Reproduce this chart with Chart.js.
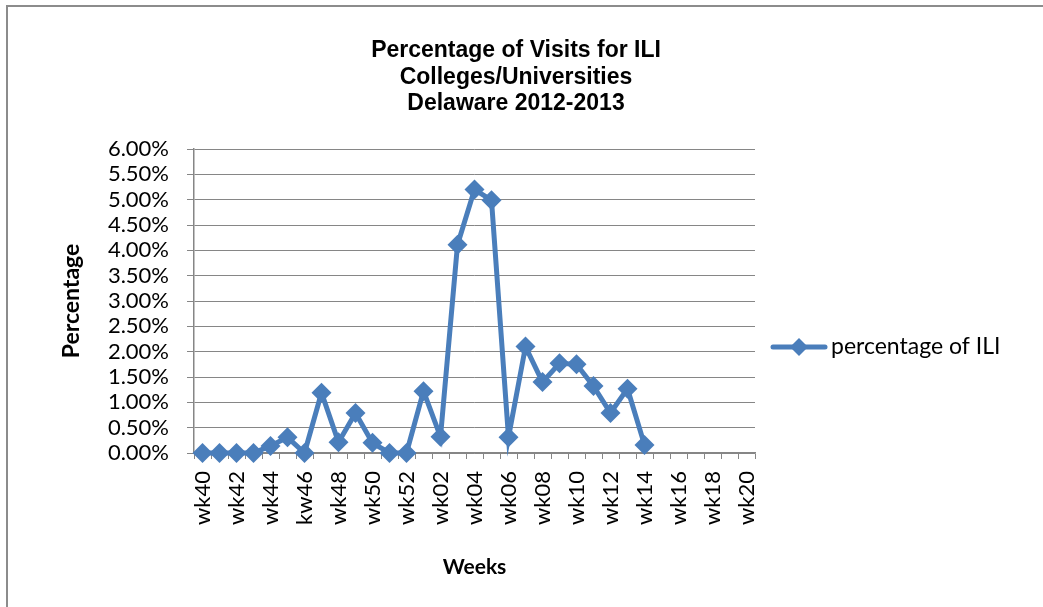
<!DOCTYPE html>
<html>
<head>
<meta charset="utf-8">
<script src="https://cdn.jsdelivr.net/npm/chart.js@4"></script>
<style>
  html, body { margin: 0; padding: 0; background: #fff; }
  #wrap { width: 1043px; height: 607px; position: relative; }
</style>
</head>
<body>
<div id="wrap"><canvas id="c" width="1043" height="607"></canvas></div>
<script>
const weeks = ["wk40","wk41","wk42","wk43","wk44","wk45","kw46","wk47","wk48","wk49","wk50","wk51","wk52",
  "wk01","wk02","wk03","wk04","wk05","wk06","wk07","wk08","wk09","wk10","wk11","wk12","wk13","wk14",
  "wk15","wk16","wk17","wk18","wk19","wk20"];
const iliPercent = [0, 0, 0, 0, 0.14, 0.31, 0, 1.19, 0.21, 0.79, 0.20, 0, 0,
  1.22, 0.32, 4.11, 5.20, 4.99, 0.31, 2.10, 1.40, 1.77, 1.75, 1.32, 0.79, 1.27, 0.16,
  null, null, null, null, null, null];
const seriesName = "percentage of ILI";
const titleLines = ["Percentage of Visits for ILI", "Colleges/Universities", "Delaware 2012-2013"];
const yAxisTitle = "Percentage";
const xAxisTitle = "Weeks";

const BLUE = "#4a7ebb";
const GRID = "#868686";
const TICKFONT = "Lato, 'Liberation Sans', sans-serif";

const decor = {
  id: "decor",
  beforeDraw(chart) {
    const ctx = chart.ctx;
    ctx.save();
    ctx.fillStyle = "#fff";
    ctx.fillRect(0, 0, chart.width, chart.height);
    ctx.strokeStyle = "#8c8c8c";
    ctx.lineWidth = 2;
    ctx.strokeRect(7, 6, chart.width + 20, chart.height + 20);
    ctx.restore();
  },
  afterDraw(chart) {
    const ctx = chart.ctx;
    ctx.save();
    // title
    ctx.fillStyle = "#000";
    ctx.font = "bold 23px 'Liberation Sans', Arial, sans-serif";
    ctx.textAlign = "center";
    ctx.textBaseline = "middle";
    titleLines.forEach((t, i) => ctx.fillText(t, 516, 51 + i * 26.5));
    // legend
    const ds = chart.data.datasets[0];
    const ly = 347;
    ctx.strokeStyle = ds.borderColor;
    ctx.lineWidth = 5;
    ctx.lineCap = "round";
    ctx.beginPath();
    ctx.moveTo(773, ly);
    ctx.lineTo(825, ly);
    ctx.stroke();
    ctx.fillStyle = ds.borderColor;
    ctx.beginPath();
    const cx = 799, r = 9;
    ctx.moveTo(cx, ly - r); ctx.lineTo(cx + r, ly); ctx.lineTo(cx, ly + r); ctx.lineTo(cx - r, ly);
    ctx.closePath();
    ctx.fill();
    ctx.fillStyle = "#000";
    ctx.font = "23px " + TICKFONT;
    ctx.textAlign = "left";
    ctx.fillText(ds.label, 831, ly);
    ctx.restore();
  }
};

new Chart(document.getElementById("c"), {
  type: "line",
  data: {
    labels: weeks,
    datasets: [{
      label: seriesName,
      data: iliPercent,
      borderColor: BLUE,
      backgroundColor: BLUE,
      borderWidth: 5,
      pointStyle: "rectRot",
      pointRadius: 10,
      pointHoverRadius: 10,
      pointBorderWidth: 0,
      pointBackgroundColor: BLUE,
      tension: 0,
      spanGaps: false,
      clip: false
    }]
  },
  options: {
    responsive: false,
    animation: false,
    devicePixelRatio: 1,
    layout: { padding: { left: 10, right: 288, top: 149, bottom: 0 } },
    plugins: { legend: { display: false }, title: { display: false }, tooltip: { enabled: false } },
    scales: {
      x: {
        type: "category",
        offset: true,
        grid: { display: true, drawOnChartArea: false, drawTicks: true, tickLength: 6, color: GRID, lineWidth: 1, offset: true },
        border: { display: true, color: GRID, width: 1.5 },
        ticks: {
          autoSkip: false, maxRotation: 90, minRotation: 90, padding: 12,
          color: "#000", font: { family: TICKFONT, size: 22 },
          callback: function (v, i) { return i % 2 === 0 ? this.getLabelForValue(v) : ""; }
        },
        title: { display: true, text: xAxisTitle, color: "#000", font: { family: TICKFONT, size: 21, weight: "bold" }, padding: { top: 0, bottom: 27 } },
        afterFit(s) { s.height = 154; }
      },
      y: {
        min: 0, max: 6,
        ticks: {
          stepSize: 0.5, autoSkip: false, color: "#000", padding: 18,
          font: { family: TICKFONT, size: 22 },
          callback: (v) => v.toFixed(2) + "%"
        },
        grid: { color: GRID, lineWidth: 1, tickLength: 7, drawTicks: true },
        border: { display: true, color: GRID, width: 1.5 },
        title: { display: true, text: yAxisTitle, color: "#000", font: { family: TICKFONT, size: 23, weight: "bold" }, padding: { top: 48 } },
        afterFit(s) { s.width = 184; }
      }
    }
  },
  plugins: [decor]
});
</script>
</body>
</html>
